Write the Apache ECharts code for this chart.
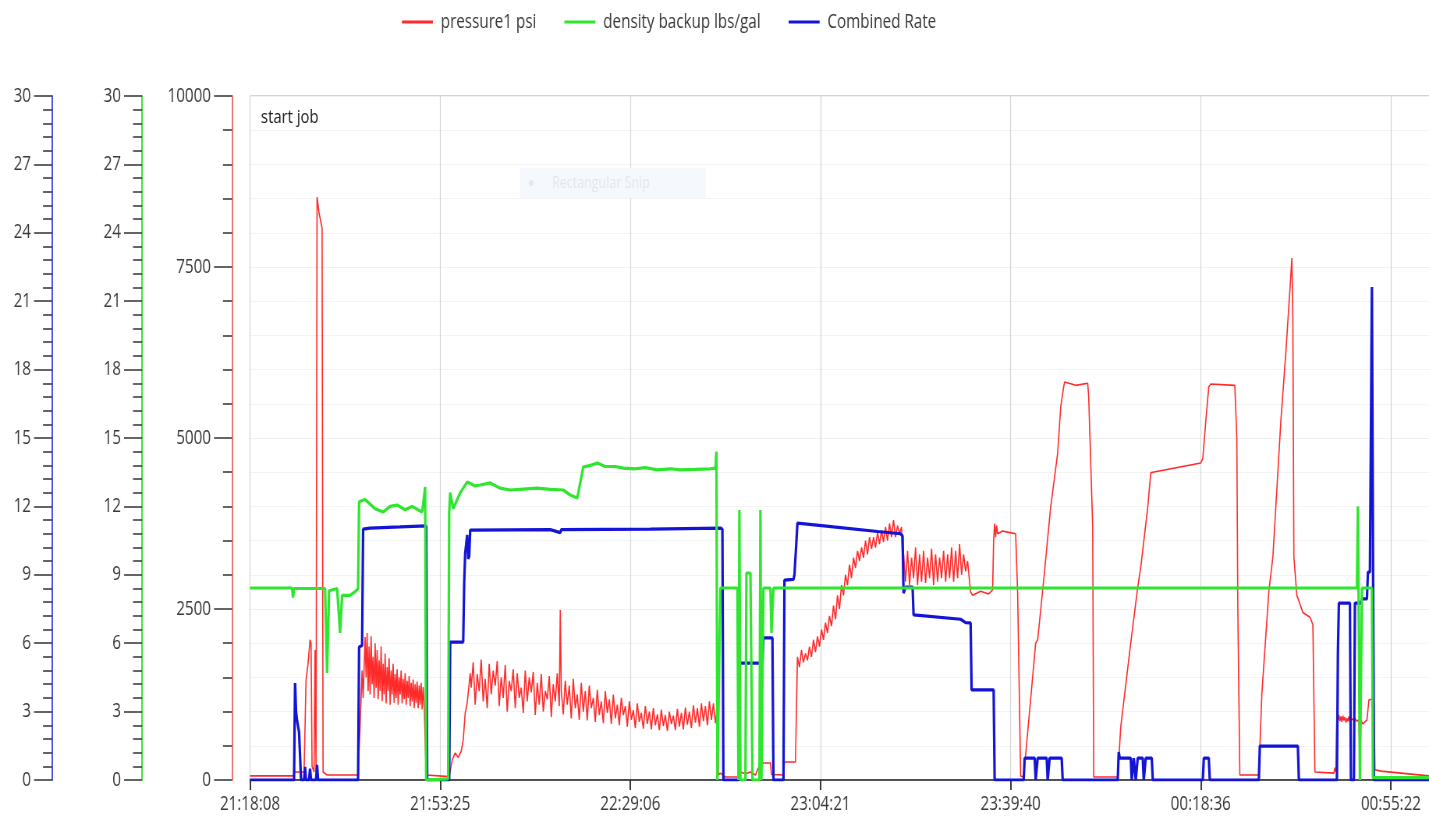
<!DOCTYPE html>
<html><head><meta charset="utf-8">
<script src="https://cdn.jsdelivr.net/npm/echarts@6/dist/echarts.min.js"></script>
<style>
html,body{margin:0;padding:0;background:#fff;overflow:hidden;width:1429px;height:824px}
#c{width:1832px;height:824px;transform:scaleX(0.780022);transform-origin:0 0}
</style>
</head><body><div id="c"></div>
<script>
// x = sample position along the time axis (one label every 190 samples)
const timeLabels = ['21:18:08','21:53:25','22:29:06','23:04:21','23:39:40','00:18:36','00:55:22'];
const tickStep = 190;
const xMax = 1217;

const seriesNames = ['pressure1 psi','density backup lbs/gal','Combined Rate'];

// pressure1 psi
const pressure = [
[0,60],[43,60],[44,117],[54,117],[56,1460],[58,1700],[60,2050],[61,2000],[62,200],[64,117],[65,1900],[66,117],
[67,8520],[69,8290],[72,8070],[73,117],[77,73],[108,73],[110,800],[112,1600],[113,1200],[115,2090],
[116,1500],[117,2150],[118,1300],[119,1950],[120,1250],[121,2100],[122,1400],[123,1800],[124,1200],[125,2000],
[126,1350],[127,1900],[128,1180],[129,1750],[130,1300],[131,1950],[132,1150],[133,1700],[134,1250],[135,1850],
[136,1120],[137,1650],[138,1300],[139,1780],[140,1100],[141,1600],[142,1250],[143,1700],[144,1130],[145,1550],
[146,1200],[147,1620],[148,1100],[149,1500],[150,1250],[151,1600],[152,1120],[153,1480],[154,1180],[155,1560],
[156,1100],[157,1450],[158,1200],[159,1520],[160,1080],[161,1420],[162,1150],[163,1470],[164,1050],[165,1400],
[166,1130],[167,1440],[168,1050],[169,1380],[170,1100],[171,1420],[172,1030],[173,1360],[174,1100],
[175,600],[176,73],[199,50],[202,290],[205,395],[208,330],[211,420],[213,585],[215,980],[217,1126],[220,1560],
[221,1350],[223,1720],[225,1100],[227,1550],[229,1300],[231,1760],[233,1150],[235,1480],[237,1050],[239,1700],
[241,1250],[243,1600],[245,1380],[247,1740],[249,1080],[251,1500],[253,1200],[255,1680],[257,1000],[259,1450],
[261,1300],[263,1620],[265,1050],[267,1560],[269,1200],[271,1350],[273,980],[275,1600],[277,1150],[279,1500],
[281,1280],[283,1580],[285,950],[287,1420],[289,1100],[291,1550],[293,1000],[295,1300],[297,1180],[299,1520],
[301,920],[303,1400],[305,1150],[307,1560],[309,1080],[310,2485],[311,1300],[313,960],[315,1450],[317,1100],
[319,1380],[321,900],[323,1480],[325,1050],[327,1250],[329,880],[331,1420],[333,1000],[335,1300],[337,870],
[339,1380],[341,1050],[343,1200],[345,850],[347,1320],[349,950],[351,1150],[353,830],[355,1300],[357,980],
[359,1180],[361,820],[363,1250],[365,900],[367,1100],[369,800],[371,1200],[373,950],[375,1080],[377,780],
[379,1150],[381,880],[383,1020],[385,760],[387,1120],[389,850],[391,980],[393,750],[395,1080],[397,820],
[399,1000],[401,740],[403,1050],[405,800],[407,960],[409,730],[411,1030],[413,790],[415,950],[417,720],
[419,1000],[421,820],[423,940],[425,730],[427,1040],[429,780],[431,980],[433,740],[435,1060],[437,810],
[439,1000],[441,760],[443,1090],[445,840],[447,1050],[449,780],[451,1120],[453,860],[455,1080],[457,800],
[459,1150],[461,880],[463,1120],[465,830],[467,1100],
[468,73],[470,100],[475,44],[488,44],[490,117],[495,90],[500,117],[505,73],[510,249],[520,249],[521,80],
[533,73],[534,263],[545,263],[547,1800],
[549,1650],[551,1900],[553,1720],[555,1850],[557,1750],[559,1950],[561,1800],[563,2050],[565,1870],[567,2100],
[569,1950],[571,2200],[573,2050],[575,2300],[577,2150],[579,2400],[581,2250],[583,2550],[585,2350],[587,2700],
[589,2500],[591,2850],[593,2700],[595,3000],[597,2850],[599,3150],[601,2950],[603,3250],[605,3100],[607,3350],
[609,3200],[611,3400],[613,3250],[615,3500],[617,3300],[619,3550],[621,3380],[623,3550],[625,3400],[627,3620],
[629,3450],[631,3650],[633,3480],[635,3700],[637,3500],[639,3750],[641,3550],[643,3800],[645,3550],[647,3720],
[649,3600],[651,3700],[652,3200],
[653,3300],[655,2900],[657,3350],[659,2850],[661,3250],[663,2950],[665,3400],[667,2850],[669,3300],[671,2900],
[673,3350],[675,2880],[677,3250],[679,2950],[681,3380],[683,2850],[685,3300],[687,2900],[689,3250],[691,2950],
[693,3350],[695,2900],[697,3300],[699,2950],[701,3400],[703,2900],[705,3350],[707,2950],[709,3450],[711,3000],
[713,3300],[715,3050],[717,3200],[719,2900],
[720,2750],[722,2700],[730,2760],[738,2720],[742,2780],[743,3500],[744,3750],[745,3550],[746,3720],[747,3600],
[752,3640],[758,3620],[765,3600],[767,2734],[770,60],[773,44],[785,2000],[787,2050],[793,2920],[800,3990],
[807,4780],[810,5450],[813,5750],[814,5820],[825,5770],[837,5800],[838,5600],[842,3700],[843,44],[867,44],
[870,775],[880,2000],[887,2820],[890,3110],[897,3990],[900,4490],[902,4500],[950,4635],[952,4700],[955,5250],
[958,5750],[960,5790],[984,5770],[986,5000],[987,2500],[989,73],[1008,73],[1011,1260],[1018,2760],[1022,3260],
[1030,5250],[1035,6260],[1039,7150],[1041,7630],[1042,6750],[1043,3260],[1046,2700],[1052,2450],[1059,2380],
[1062,2270],[1064,117],[1083,100],[1084,180],[1085,117],[1086,936],
[1087,870],[1088,950],[1089,860],[1090,930],[1091,850],[1092,940],[1093,870],[1094,920],[1095,840],[1096,900],
[1097,860],[1098,930],[1099,850],[1100,910],[1102,880],[1104,900],[1106,860],[1108,880],[1109,300],[1110,870],
[1112,820],[1114,850],[1116,880],[1118,1170],[1121,1180],[1123,1100],[1124,150],[1130,130],[1150,100],[1178,60]
];

// density backup lbs/gal
const density = [
[0,8.42],[42,8.42],[43,8.0],[44,8.4],[75,8.4],[77,4.7],[79,8.3],[87,8.4],[90,6.45],[92,8.1],[100,8.1],[106,8.3],
[108,8.4],[109,12.2],[115,12.3],[120,12.1],[125,11.9],[133,11.75],[140,12.0],[147,12.06],[155,11.85],[162,12.0],
[170,11.8],[172,11.75],[175,12.85],[176,0],[198,0.05],[199,11.7],[200,12.6],[203,11.9],[210,12.6],[217,13.07],
[225,12.9],[230,12.94],[240,13.03],[250,12.8],[260,12.72],[270,12.75],[287,12.8],[300,12.75],[313,12.72],
[320,12.5],[327,12.37],[333,13.73],[340,13.8],[347,13.9],[355,13.75],[365,13.75],[373,13.68],[385,13.65],
[395,13.7],[407,13.6],[420,13.65],[430,13.6],[445,13.62],[460,13.65],[465,13.68],[466,14.4],[467,0],[468,0],
[470,8.42],[487,8.42],[488,0],[489,11.84],[490,0],[495,0],[496,9.08],[500,9.08],[502,0],[509,0],[510,11.84],
[511,0],[513,8.42],[520,8.42],[521,6.45],[523,8.42],[600,8.42],[700,8.42],[800,8.42],[900,8.42],[1000,8.42],
[1106,8.42],[1107,12.0],[1108,12.0],[1109,0],[1111,8.42],[1121,8.42],[1122,0.1],[1178,0.1]
];

// Combined Rate
const rate = [
[0,0],[44,0],[45,4.25],[46,3.0],[47,2.6],[49,2.1],[51,0],[54,0],[55,0.57],[56,0],[59,0],[60,0.5],[61,0],[66,0],
[67,0.66],[68,0],[108,0],[109,5.83],[112,5.9],[113,11.0],[120,11.05],[150,11.1],[176,11.15],[177,0],[199,0],
[200,6.05],[213,6.05],[214,8.64],[215,9.96],[217,10.75],[218,9.7],[219,9.8],[220,10.96],[300,10.98],[310,10.85],
[311,10.98],[400,11.0],[470,11.05],[472,11.0],[473,0],[488,0],[489,5.13],[512,5.13],[513,6.23],[522,6.23],[523,0],
[533,0],[534,8.77],[543,8.8],[544,9.0],[547,11.27],[583,11.1],[627,10.9],[650,10.8],[652,10.7],[653,8.2],
[655,8.46],[662,8.46],[663,7.24],[710,7.05],[715,6.9],[720,6.89],[721,3.95],[743,3.95],[744,0],[773,0],
[774,0.96],[784,0.96],[785,0],[786,0],[787,0.96],[796,0.96],[797,0],[798,0],[799,0.96],[811,0.96],[812,0],
[867,0],[868,1.23],[869,0.96],[880,0.96],[881,0],[882,0],[883,0.96],[884,0.96],[885,0],[886,0],[887,0.96],
[892,0.96],[893,0],[894,0],[895,0.96],[901,0.96],[902,0],[952,0],[953,0.96],[958,0.96],[959,0],[1008,0],
[1009,1.49],[1047,1.49],[1048,0],[1086,0],[1087,5.57],[1088,7.76],[1099,7.76],[1100,0],[1103,0],[1104,7.76],
[1110,7.76],[1111,7.94],[1116,7.94],[1117,9.12],[1119,9.12],[1121,21.62],[1123,0],[1178,0]
];

// the page is drawn wide and squeezed horizontally (like the reference screenshot)
const K = 1429 / 1832;
const X = v => v / K;
const FONT = '"Open Sans","Liberation Sans",sans-serif';
const TXT = '#3a3a3a';
const FS = 19.5;

function yAx(color, offset, max, interval, extra) {
  return Object.assign({
    type: 'value', position: 'left', offset: X(offset), min: 0, max: max, interval: interval,
    axisLine: {show: true, onZero: false, lineStyle: {color: color, width: 1.8}},
    axisTick: {show: true, inside: false, length: X(18), lineStyle: {color: '#333', width: 1.5}},
    minorTick: {show: true, splitNumber: 5, length: X(9), lineStyle: {color: '#333', width: 1.5}},
    axisLabel: {color: TXT, fontFamily: FONT, fontSize: FS, margin: X(21), formatter: v => String(v)},
    splitLine: {show: false}
  }, extra || {});
}

const chart = echarts.init(document.getElementById('c'), null, {renderer: 'canvas'});
chart.setOption({
  animation: false,
  backgroundColor: '#fff',
  grid: {left: X(250), width: X(1218), top: 96, bottom: 44, outerBoundsMode: 'none', containLabel: false,
         show: true, borderColor: '#a8a8a8', borderWidth: 1},
  legend: {
    left: X(398), top: 7, icon: 'rect', itemWidth: X(31), itemHeight: 3, itemGap: X(28),
    data: seriesNames,
    textStyle: {color: TXT, fontFamily: FONT, fontSize: FS, padding: [0, 0, 0, 5]}
  },
  xAxis: {
    type: 'value', min: 0, max: xMax, interval: tickStep,
    axisLine: {show: true, onZero: false, lineStyle: {color: '#222', width: 1.5}},
    axisTick: {show: true, length: 10, lineStyle: {color: '#222', width: 1.8}},
    axisLabel: {color: TXT, fontFamily: FONT, fontSize: FS, margin: 14,
      formatter: v => (v % tickStep === 0 ? (timeLabels[v / tickStep] || '') : '')},
    splitLine: {show: true, lineStyle: {color: '#d6d6d6', width: 1.2}}
  },
  yAxis: [
    yAx('#f06464', 18, 10000, 2500, {
      splitLine: {show: true, lineStyle: {color: '#f1f1f1', width: 1}},
      minorSplitLine: {show: true, lineStyle: {color: '#f3f3f3', width: 1}}
    }),
    yAx('#33dd33', 108, 30, 3),
    yAx('#3d3de6', 198, 30, 3)
  ],
  series: [
    {name: seriesNames[0], type: 'line', yAxisIndex: 0, data: pressure, showSymbol: false, symbol: 'none',
     lineStyle: {color: '#ff2a2a', width: 1.6}, itemStyle: {color: '#ff2a2a'}, z: 2},
    {name: seriesNames[2], type: 'line', yAxisIndex: 2, data: rate, showSymbol: false, symbol: 'none',
     lineStyle: {color: '#1414d6', width: 3.2}, itemStyle: {color: '#1414d6'}, z: 3},
    {name: seriesNames[1], type: 'line', yAxisIndex: 1, data: density, showSymbol: false, symbol: 'none',
     lineStyle: {color: '#2ee62e', width: 3.2}, itemStyle: {color: '#2ee62e'}, z: 4}
  ],
  graphic: [
    {type: 'rect', shape: {x: X(520), y: 168, width: X(186), height: 30}, style: {fill: '#f5f8fd'}, silent: true, z: 1},
    {type: 'circle', shape: {cx: X(531), cy: 183, r: 3}, style: {fill: '#e3e8ef'}, silent: true, z: 1},
    {type: 'text', x: X(552), y: 183, style: {text: 'Rectangular Snip', fill: '#e2e7ee', font: '16px ' + FONT, verticalAlign: 'middle'}, silent: true, z: 1},
    {type: 'text', x: X(261), y: 118, style: {text: 'start job', fill: '#222', font: '19px ' + FONT, verticalAlign: 'middle'}, silent: true, z: 10}
  ]
});
</script>
</body></html>
